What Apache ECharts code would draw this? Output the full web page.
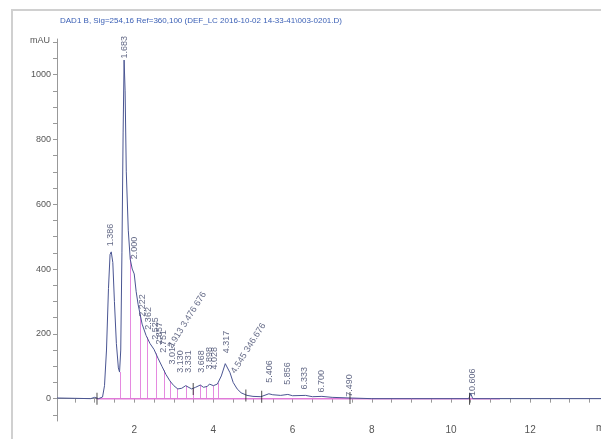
<!DOCTYPE html>
<html><head><meta charset="utf-8">
<script src="https://cdn.jsdelivr.net/npm/echarts@6/dist/echarts.min.js"></script>
<style>html,body{margin:0;padding:0;background:#fff}#c{width:601px;height:439px}</style>
</head><body><div id="c"></div>
<script>
// Signal trace (retention time in min, absorbance in mAU)
const sigTime = [0.05,0.5,0.9,1.0,1.05,1.1,1.2,1.25,1.3,1.35,1.39,1.42,1.46,1.5,1.55,1.6,1.63,1.66,1.69,1.72,1.745,1.77,1.8,1.85,1.9,1.95,2.0,2.05,2.1,2.2,2.3,2.4,2.5,2.6,2.7,2.8,2.9,3.0,3.1,3.2,3.3,3.35,3.45,3.55,3.67,3.75,3.85,3.9,4.0,4.1,4.2,4.3,4.35,4.42,4.5,4.6,4.7,4.85,5.0,5.2,5.4,5.5,5.7,5.88,6.0,6.33,6.5,6.74,7.0,7.45,8.0,9.0,10.0,10.45,10.5,10.55,11.0,12.0,13.0,13.8];
const sigValue = [2,1,0,4,-2,0,5,40,150,340,445,453,420,300,170,95,82,150,450,820,1045,950,700,520,430,400,385,330,290,230,195,170,152,125,100,75,55,40,30,32,40,36,30,35,42,35,38,45,40,45,70,108,112,80,50,30,18,10,7,6,15,12,10,13,9,10,6,7,4,2,0,0,0,0,16,0,0,0,0,0];
// Integration baseline
const baseTime = [1.05, 11.24];
const baseValue = [0, 0];
// Integration drop lines
const dropTime = [1.63,1.89,2.15,2.32,2.55,2.75,2.90,3.08,3.31,3.48,3.66,3.81,3.99,4.12];
const dropValue = [82,440,260,190,140,88,55,32,40,30,42,36,40,48];
// Peak boundary tick marks
const tickTime = [1.06,3.49,4.82,5.22,7.45,10.47];
const tickValue = [0,30,10,6,2,0];
// Peak labels
const peakText = ["1.386","1.683","2.000","2.222","2.362","2.525","2.657","2.751","2.913 3.476 676","3.017","3.130","3.331","3.668","3.898","4.028","4.317","4.545 346.676","5.406","5.856","6.333","6.700","7.490","10.606"];
const peakTime = [1.40,1.745,2.02,2.22,2.35,2.53,2.65,2.75,2.90,2.98,3.16,3.36,3.71,3.89,4.04,4.32,4.50,5.43,5.88,6.31,6.74,7.45,10.55];
const peakAnchor = [470,1050,430,253,213,182,167,142,157,105,80,80,80,90,90,140,80,49,43,28,19,6,8];
const peakAngle = [90,90,90,90,90,90,90,90,58,90,90,90,90,90,90,90,58,90,90,90,90,90,90];
// Axis ticks
const xLabels = [2,4,6,8,10,12];
const yLabels = [0,200,400,600,800,1000];

const xMinor = [];
for (let i = 1; i <= 27; i++) xMinor.push(i * 0.5);
const yMinor = [];
for (let v = -50; v <= 1100; v += 50) yMinor.push(v);

const font = 'Arial, "Liberation Sans", sans-serif';
const chart = echarts.init(document.getElementById('c'), null, {renderer: 'canvas'});
chart.setOption({
  animation: false,
  backgroundColor: '#fff',
  title: {
    text: 'DAD1 B, Sig=254,16 Ref=360,100 (DEF_LC 2016-10-02 14-33-41\\003-0201.D)',
    left: 55, top: 12,
    textStyle: {fontSize: 8, fontWeight: 'normal', color: '#3a5fb5', fontFamily: font}
  },
  graphic: [
    {type: 'rect', shape: {x: 12, y: 10, width: 600, height: 440}, style: {fill: 'none', stroke: '#d0d0d0', lineWidth: 2}, silent: true},
    {type: 'text', left: 30, top: 36, style: {text: 'mAU', fontSize: 9, fill: '#555', fontFamily: font}},
    {type: 'text', left: 596, top: 423, style: {text: 'min', fontSize: 10, fill: '#555', fontFamily: font}}
  ],
  grid: {left: 57, right: 0, top: 39, bottom: 18},
  xAxis: {
    type: 'value', min: 0.05, max: 13.79,
    axisLine: {lineStyle: {color: '#999'}},
    axisTick: {customValues: xMinor, length: 4, lineStyle: {color: '#999'}},
    axisLabel: {customValues: xLabels, fontSize: 10, color: '#555', fontFamily: font, margin: 4},
    splitLine: {show: false}
  },
  yAxis: {
    type: 'value', min: -69, max: 1110,
    axisLine: {show: true, lineStyle: {color: '#999'}},
    axisTick: {show: true, customValues: yMinor, length: 4, lineStyle: {color: '#999'}},
    axisLabel: {customValues: yLabels, fontSize: 9, color: '#555', fontFamily: font, margin: 6, formatter: v => String(v)},
    splitLine: {show: false}
  },
  series: [
    {
      type: 'custom', name: 'drops', silent: true, z: 2,
      data: dropTime.map((t, i) => [t, dropValue[i]]),
      renderItem: function (params, api) {
        const p0 = api.coord([api.value(0), 0]);
        const p1 = api.coord([api.value(0), api.value(1)]);
        return {type: 'line', shape: {x1: Math.round(p0[0]) + 0.5, y1: p0[1], x2: Math.round(p1[0]) + 0.5, y2: p1[1]}, style: {stroke: '#e58ae0', lineWidth: 1}};
      }
    },
    {
      type: 'line', name: 'baseline', silent: true, z: 3, showSymbol: false,
      data: baseTime.map((t, i) => [t, baseValue[i]]),
      lineStyle: {color: '#e07ad8', width: 1.5}
    },
    {
      type: 'line', name: 'signal', silent: true, z: 4, showSymbol: false,
      data: sigTime.map((t, i) => [t, sigValue[i]]),
      lineStyle: {color: '#4a5592', width: 1}
    },
    {
      type: 'scatter', name: 'ticks', silent: true, z: 5,
      symbol: 'rect', symbolSize: [1, 12],
      itemStyle: {color: '#222'},
      data: tickTime.map((t, i) => [t, tickValue[i]])
    },
    {
      type: 'scatter', name: 'labels', silent: true, z: 6,
      symbolSize: 0,
      data: peakTime.map((t, i) => ({
        value: [t, peakAnchor[i]], name: peakText[i],
        label: {rotate: peakAngle[i]}
      })),
      label: {
        show: true, position: [0, 0], align: 'left', verticalAlign: 'middle',
        formatter: p => p.name, fontSize: 9, color: '#3c4368', fontFamily: font
      }
    }
  ]
});
</script></body></html>
